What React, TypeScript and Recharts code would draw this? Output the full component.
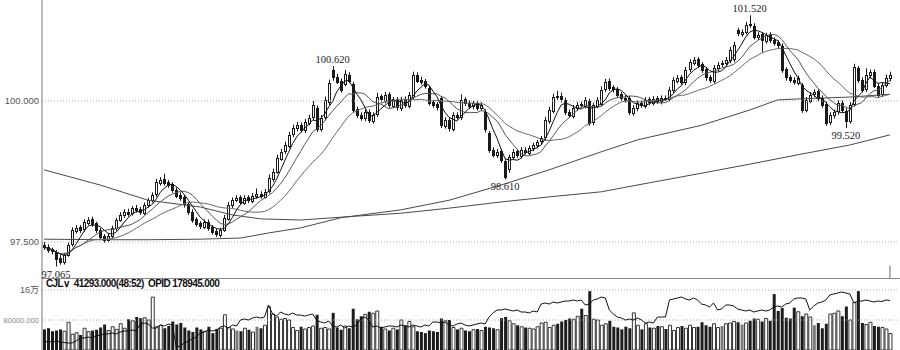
import React from 'react';
import { ComposedChart, Bar, Line, XAxis, YAxis, ReferenceLine, Cell } from 'recharts';

// ---- data ----
const opens = [
  97.45,97.42,97.37,97.32,97.22,97.14,97.28,97.46,97.70,97.76,
  97.72,97.84,97.90,97.83,97.72,97.61,97.53,97.61,97.74,97.90,
  97.97,98.04,98.01,98.11,98.08,98.02,98.15,98.25,98.34,98.55,
  98.62,98.56,98.52,98.43,98.34,98.29,98.17,98.04,97.90,97.83,
  97.77,97.86,97.76,97.69,97.63,97.72,97.92,98.15,98.25,98.29,
  98.20,98.29,98.23,98.31,98.36,98.31,98.40,98.62,98.75,98.98,
  99.11,99.21,99.41,99.51,99.58,99.48,99.62,99.71,99.88,99.51,
  99.71,99.98,100.55,100.43,100.36,100.30,100.47,100.30,99.85,99.76,
  99.69,99.81,99.65,99.76,100.08,100.01,100.12,99.92,100.03,99.87,
  100.03,99.92,100.07,100.47,100.38,100.35,100.23,99.98,99.94,100.05,
  99.56,99.67,99.51,99.76,99.71,100.03,99.97,99.90,99.97,99.87,
  99.80,99.43,99.14,99.04,99.11,98.94,98.78,99.01,99.11,99.03,
  99.14,99.09,99.16,99.21,99.28,99.35,99.65,99.83,100.08,100.08,
  100.01,99.81,99.74,99.87,99.94,99.92,100.00,99.62,99.92,99.96,
  100.21,100.35,100.24,100.21,100.12,100.06,100.05,99.79,99.87,99.97,
  99.92,100.03,99.97,100.05,99.99,100.06,100.04,100.19,100.36,100.42,
  100.33,100.56,100.68,100.74,100.65,100.56,100.42,100.36,100.58,100.65,
  100.68,100.72,100.74,101.26,101.19,101.23,101.36,101.33,101.13,101.18,
  101.07,101.18,101.09,101.04,100.98,100.56,100.42,100.38,100.33,100.28,
  99.85,100.01,100.12,100.17,100.06,99.95,99.62,99.74,99.81,99.97,
  99.83,99.65,99.95,100.58,100.38,100.21,100.45,100.52,100.27,100.12,
  100.29,100.40,
];
const highs = [
  97.50,97.46,97.40,97.36,97.27,97.31,97.49,97.76,97.80,97.80,
  97.90,97.94,97.95,97.86,97.75,97.64,97.65,97.79,97.93,98.03,
  98.08,98.09,98.14,98.16,98.12,98.20,98.28,98.38,98.62,98.65,
  98.71,98.60,98.56,98.47,98.38,98.33,98.21,98.08,97.94,97.87,
  97.90,97.90,97.80,97.73,97.75,97.98,98.21,98.29,98.33,98.33,
  98.33,98.33,98.37,98.45,98.40,98.44,98.70,98.80,99.05,99.15,
  99.28,99.45,99.58,99.63,99.62,99.68,99.76,100.00,99.92,99.75,
  100.08,100.38,100.62,100.48,100.40,100.55,100.51,100.34,99.90,99.80,
  99.85,99.85,99.80,100.15,100.12,100.16,100.16,100.07,100.07,100.07,
  100.08,100.16,100.52,100.51,100.43,100.39,100.27,100.02,99.98,100.09,
  99.71,99.71,99.80,99.80,100.12,100.07,100.01,100.00,100.01,99.98,
  99.85,99.47,99.18,99.15,99.15,98.98,99.05,99.15,99.15,99.18,
  99.18,99.21,99.26,99.31,99.38,99.72,99.90,100.13,100.18,100.15,
  100.06,99.85,99.93,99.98,99.99,100.07,100.04,99.97,100.07,100.26,
  100.39,100.40,100.28,100.25,100.16,100.10,100.09,99.93,100.01,100.01,
  100.07,100.07,100.09,100.09,100.10,100.10,100.25,100.42,100.46,100.46,
  100.60,100.74,100.78,100.78,100.69,100.60,100.46,100.64,100.69,100.72,
  100.78,100.96,101.05,101.30,101.27,101.40,101.52,101.38,101.22,101.22,
  101.21,101.22,101.13,101.08,101.02,100.60,100.46,100.42,100.45,100.32,
  100.07,100.16,100.21,100.21,100.10,99.99,99.80,99.85,100.01,100.01,
  99.87,99.98,100.66,100.62,100.42,100.58,100.56,100.56,100.31,100.33,
  100.47,100.52,
];
const lows = [
  97.36,97.31,97.28,97.065,97.10,97.10,97.24,97.42,97.65,97.66,
  97.68,97.80,97.77,97.66,97.55,97.49,97.49,97.57,97.70,97.86,
  97.93,97.95,97.97,98.02,97.98,97.98,98.11,98.20,98.30,98.50,
  98.50,98.46,98.37,98.28,98.23,98.11,97.98,97.84,97.77,97.73,
  97.73,97.70,97.63,97.59,97.58,97.68,97.88,98.10,98.21,98.16,
  98.16,98.19,98.19,98.27,98.27,98.27,98.36,98.57,98.71,98.94,
  99.06,99.16,99.36,99.46,99.44,99.43,99.57,99.66,99.45,99.46,
  99.66,99.93,100.36,100.30,100.15,100.26,100.32,99.79,99.70,99.65,
  99.64,99.61,99.60,99.72,99.97,99.96,99.88,99.87,99.83,99.82,
  99.88,99.87,100.02,100.32,100.29,100.22,99.92,99.88,99.83,99.52,
  99.51,99.46,99.46,99.67,99.66,99.91,99.86,99.85,99.83,99.82,
  99.44,99.08,99.00,98.99,98.90,98.61,98.73,98.96,98.99,98.98,
  99.05,99.04,99.11,99.16,99.23,99.30,99.60,99.78,100.02,99.97,
  99.75,99.70,99.69,99.82,99.88,99.87,99.56,99.57,99.87,99.91,
  100.16,100.18,100.15,100.06,100.00,99.97,99.75,99.74,99.82,99.88,
  99.87,99.93,99.92,99.95,99.94,100.00,99.99,100.14,100.31,100.29,
  100.28,100.51,100.63,100.59,100.50,100.36,100.32,100.31,100.53,100.60,
  100.63,100.67,100.69,101.15,101.14,101.18,101.30,101.09,101.08,100.86,
  101.02,101.03,100.98,100.94,100.50,100.36,100.32,100.29,100.28,99.79,
  99.80,99.96,100.07,100.00,99.88,99.56,99.57,99.69,99.76,99.79,
  99.52,99.60,99.90,100.32,100.15,100.16,100.40,100.23,100.06,100.07,
  100.24,100.35,
];
const closes = [
  97.41,97.36,97.33,97.20,97.15,97.27,97.45,97.71,97.75,97.71,
  97.85,97.89,97.82,97.71,97.60,97.54,97.60,97.75,97.89,97.98,
  98.03,98.00,98.10,98.07,98.03,98.16,98.24,98.33,98.56,98.60,
  98.55,98.51,98.42,98.33,98.28,98.16,98.03,97.89,97.82,97.78,
  97.85,97.75,97.68,97.64,97.71,97.93,98.16,98.24,98.28,98.21,
  98.28,98.24,98.32,98.35,98.32,98.39,98.63,98.74,98.99,99.10,
  99.22,99.40,99.52,99.57,99.49,99.63,99.70,99.93,99.50,99.70,
  100.02,100.32,100.42,100.35,100.20,100.48,100.37,99.84,99.75,99.70,
  99.80,99.66,99.75,100.07,100.02,100.11,99.93,100.02,99.88,100.02,
  99.93,100.11,100.46,100.37,100.34,100.27,99.97,99.93,99.88,99.57,
  99.66,99.52,99.75,99.72,100.02,99.96,99.91,99.96,99.88,99.93,
  99.49,99.13,99.05,99.10,98.95,98.66,99.00,99.10,99.04,99.13,
  99.10,99.17,99.22,99.27,99.34,99.66,99.84,100.07,100.07,100.02,
  99.80,99.75,99.88,99.93,99.93,100.02,99.61,99.93,100.02,100.20,
  100.34,100.23,100.20,100.11,100.05,100.02,99.80,99.88,99.96,99.93,
  100.02,99.98,100.04,100.00,100.05,100.05,100.20,100.37,100.41,100.34,
  100.55,100.69,100.73,100.64,100.55,100.41,100.37,100.59,100.64,100.67,
  100.73,100.90,100.99,101.20,101.22,101.35,101.35,101.14,101.17,101.08,
  101.17,101.08,101.03,100.99,100.55,100.41,100.37,100.34,100.41,99.84,
  100.02,100.11,100.16,100.05,99.93,99.61,99.75,99.80,99.96,99.84,
  99.66,99.93,100.60,100.37,100.20,100.46,100.51,100.28,100.11,100.28,
  100.41,100.46,
];
const volumes = [
  55000,58000,50000,52000,55000,50000,74000,42000,46000,40000,
  58000,49000,52000,54000,60000,68000,52000,62000,55000,70000,
  58000,82000,78000,88000,85000,86000,80000,141000,62000,66000,
  58000,64000,76000,68000,72000,60000,52000,48000,60000,55000,
  50000,62000,45000,56000,58000,94000,60000,56000,52000,50000,
  58000,54000,48000,62000,58000,66000,115000,96000,88000,82000,
  84000,80000,60000,52000,62000,56000,60000,64000,94000,58000,
  60000,56000,99000,60000,54000,64000,58000,110000,82000,90000,
  95000,102000,98000,104000,62000,56000,52000,58000,55000,80000,
  66000,76000,62000,50000,48000,45000,52000,50000,48000,84000,
  78000,80000,60000,55000,58000,52000,50000,54000,56000,52000,
  62000,60000,58000,54000,85000,88000,78000,70000,66000,62000,
  60000,58000,56000,62000,72000,74000,60000,66000,70000,76000,
  80000,84000,82000,90000,110000,92000,157000,82000,80000,66000,
  70000,78000,62000,60000,55000,62000,58000,99000,66000,55000,
  70000,60000,58000,64000,62000,56000,66000,52000,60000,64000,
  58000,66000,60000,62000,74000,66000,62000,70000,60000,64000,
  70000,72000,76000,74000,68000,72000,78000,84000,82000,76000,
  84000,78000,149000,104000,112000,86000,84000,113000,102000,90000,
  96000,88000,66000,72000,58000,70000,96000,98000,104000,90000,
  116000,80000,127000,157000,72000,68000,74000,64000,62000,60000,
  56000,44000,
];
const openInterest = [
  174800,174850,174800,174900,174800,174750,174700,174700,174900,175200,
  175200,175300,175200,175400,175500,175600,175600,175700,175600,175800,
  175900,175900,176000,175900,176600,176700,176600,176200,176200,176500,
  176400,176600,176500,174300,174400,174700,174900,175100,175300,175700,
  175800,176000,175900,176000,176300,176400,176200,176500,176400,177000,
  177100,177000,177200,177300,177200,177300,178500,177600,177400,177800,
  177600,177500,177700,177500,177500,177400,177500,177600,177000,176800,
  176700,176900,176400,176300,176500,176200,176400,176300,176500,177100,
  177300,177000,176300,176400,176200,176300,176400,176400,176300,176500,
  176400,176300,176500,176400,176300,176500,176400,176800,176800,176700,
  176800,176500,176400,176600,176700,176500,176400,176500,176600,176700,
  176600,177300,177700,178000,178000,178100,178000,177900,178000,177800,
  177800,177700,177900,177800,178600,178700,178600,178800,178700,178800,
  178900,178900,179000,178900,179000,178500,178600,179000,179100,179300,
  179200,178000,177600,177300,177200,177000,177100,177000,177200,177000,
  176700,176800,176700,177300,177300,177300,179000,179100,179200,179300,
  179100,179000,179200,179000,178600,178500,178300,178700,178000,178100,
  178500,178500,178400,178100,178000,177900,178000,177800,177900,178000,
  177900,178000,178300,178400,178300,178600,178700,179100,179200,179200,
  179100,178000,178400,178700,178800,179000,179500,179600,179700,179800,
  179700,179600,178700,178900,178900,179000,178900,178800,178900,178850,
  179000,178945,
];
// long moving averages read at sample points: [bar index, value]
const longMaA: [number, number][] = [
  [0, 98.78], [14, 98.51], [26, 98.24], [39, 98.12], [47, 97.98], [54, 97.91],
  [64, 97.89], [74, 97.94], [89, 98.01], [101, 98.10], [114, 98.21], [126, 98.30],
  [139, 98.39], [151, 98.55], [164, 98.72], [176, 98.88], [189, 99.06], [201, 99.22], [211, 99.40],
];
const longMaB: [number, number][] = [
  [0, 97.55], [14, 97.54], [26, 97.54], [39, 97.55], [49, 97.57], [56, 97.66],
  [64, 97.75], [74, 97.93], [89, 98.07], [101, 98.24], [114, 98.51], [126, 98.78],
  [139, 99.10], [148, 99.31], [164, 99.57], [176, 99.84], [183, 100.02], [189, 100.04],
  [201, 100.07], [211, 100.12],
];
// labelled extremes: [bar index, value, side]
const extremes: [number, number, 'high' | 'low'][] = [
  [3, 97.065, 'low'], [72, 100.62, 'high'], [115, 98.61, 'low'], [176, 101.52, 'high'], [200, 99.52, 'low'],
];
const priceTicks = [97.5, 100];
const volumeTicks = [80000, 160000];
const legendText = 'CJL\u2228  41293.000(48:52)  OPID 178945.000';

// ---- table built from the arrays ----
const N = closes.length;
const PAD = 2;
function avg(arr: number[], i: number, n: number) {
  const s = Math.max(0, i - n + 1);
  let t = 0;
  for (let k = s; k <= i; k++) t += arr[k];
  return t / (i - s + 1);
}
const maA = new Map(longMaA.map(([i, v]) => [i, v]));
const maB = new Map(longMaB.map(([i, v]) => [i, v]));
const ext = new Map(extremes.map(([i, v, s]) => [i, { v, s }]));
const rows: any[] = [];
for (let i = 0; i < N + PAD; i++) {
  if (i >= N) { rows.push({ i }); continue; }
  const e = ext.get(i);
  rows.push({
    i, o: opens[i], h: highs[i], l: lows[i], c: closes[i],
    hl: [lows[i], highs[i]],
    vol: volumes[i], oi: openInterest[i],
    ma5: avg(closes, i, 5), ma10: avg(closes, i, 10), ma20: avg(closes, i, 20),
    maA: maA.has(i) ? maA.get(i) : null,
    maB: maB.has(i) ? maB.get(i) : null,
    ext: e ? e.v : null, extSide: e ? e.s : null,
  });
}

const Candle = (props: any) => {
  const { x, y, width, height, payload } = props;
  if (!payload || payload.h == null) return null;
  const { o, h, l, c } = payload;
  const top = Math.min(y, y + height);
  const span = Math.abs(height);
  const k = h > l ? span / (h - l) : 0;
  const yO = top + (h - o) * k;
  const yC = top + (h - c) * k;
  const cx = Math.floor(x + width / 2) + 0.5;
  const up = c >= o;
  const bTop = Math.round(Math.min(yO, yC)) + 0.5;
  const bH = Math.max(Math.round(Math.abs(yO - yC)), 1);
  return (
    <g>
      <line x1={cx} x2={cx} y1={top} y2={top + span} stroke="#1a1a1a" strokeWidth={1} />
      <rect x={cx - 1} y={bTop} width={2} height={bH} fill={up ? '#ffffff' : '#1a1a1a'} stroke="#1a1a1a" strokeWidth={1} />
    </g>
  );
};

const ExtDot = (props: any) => {
  const { cx, cy, payload } = props;
  if (!payload || payload.ext == null || cy == null || isNaN(cy)) return <g key={props.key} />;
  const high = payload.extSide === 'high';
  return (
    <text key={props.key} x={cx} y={high ? cy - 3 : cy + 11} textAnchor="middle"
      fontSize={10.5} fontFamily="Liberation Serif, serif" fill="#222">
      {payload.ext.toFixed(3)}
    </text>
  );
};

const volColor = (r: any) => {
  if (r.c < r.o) return '#1c1c1c';
  if (r.c - r.o < 0.04) return '#7a7a7a';
  return '#ffffff';
};

const tickStyle = { fontSize: 9.5, fill: '#555', fontFamily: 'Liberation Sans, sans-serif' };

const VolTick = (props: any) => {
  const { x, y, payload } = props;
  const big = payload.value === 160000;
  return (
    <text x={x} y={y} dy={3} textAnchor="end" fontSize={big ? 9 : 7.5}
      fontFamily="Liberation Sans, 'Noto Sans CJK SC', sans-serif" fill={big ? '#555' : '#888'}>
      {big ? '16万' : '80000.000'}
    </text>
  );
};

export default function App() {
  return (
    <div style={{ position: 'absolute', left: 0, top: 0, width: 900, height: 350, background: '#fff', overflow: 'hidden' }}>
      <ComposedChart width={900} height={279} data={rows} margin={{ top: 0, right: 0, bottom: 0, left: 0 }}>
        <XAxis dataKey="i" type="category" hide />
        <YAxis domain={[96.844, 101.791]} ticks={priceTicks} width={42} tickLine={false} tickSize={0} tickMargin={3}
          axisLine={{ stroke: '#777' }} tick={tickStyle} tickFormatter={(v: number) => v.toFixed(3)} allowDataOverflow />
        {priceTicks.map(t => (
          <ReferenceLine key={t} y={t} stroke="#aaa" strokeDasharray="1 2" />
        ))}
        <Line dataKey="maA" stroke="#4a4a4a" strokeWidth={1} dot={false} connectNulls isAnimationActive={false} />
        <Line dataKey="maB" stroke="#4a4a4a" strokeWidth={1} dot={false} connectNulls isAnimationActive={false} />
        <Bar dataKey="hl" barSize={3} shape={<Candle />} isAnimationActive={false} />
        <Line dataKey="ma20" stroke="#6a6a6a" strokeWidth={1} dot={false} isAnimationActive={false} />
        <Line dataKey="ma10" stroke="#555" strokeWidth={1} dot={false} isAnimationActive={false} />
        <Line dataKey="ma5" stroke="#111" strokeWidth={1} dot={false} isAnimationActive={false} />
        <Line dataKey="ext" stroke="none" dot={<ExtDot />} activeDot={false} isAnimationActive={false} />
        <ReferenceLine segment={[{ x: 211, y: 97.08 }, { x: 211, y: 96.844 }]} stroke="#666" />
      </ComposedChart>
      <div style={{ position: 'absolute', left: 42, top: 278, width: 858, height: 1, background: '#888' }} />
      <div style={{ position: 'absolute', left: 0, top: 278, width: 900, height: 72 }}>
        <ComposedChart width={900} height={72} data={rows} margin={{ top: 0, right: 0, bottom: 0, left: 0 }}>
          <XAxis dataKey="i" type="category" hide />
          <YAxis yAxisId="v" orientation="left" domain={[0, 192000]} ticks={volumeTicks} width={42} tickLine={false}
            tickSize={0} tickMargin={3} axisLine={{ stroke: '#777' }} tick={<VolTick />} />
          <YAxis yAxisId="oi" orientation="right" width={0} domain={[174000, 181200]} hide />
          {volumeTicks.map(t => (
            <ReferenceLine key={t} yAxisId="v" y={t} stroke="#aaa" strokeDasharray="1 2" />
          ))}
          <Bar yAxisId="v" dataKey="vol" barSize={3} isAnimationActive={false}>
            {rows.map((r, idx) => {
              const f = r.c == null ? '#fff' : volColor(r);
              return <Cell key={idx} fill={f} stroke={f === '#ffffff' ? '#333' : f} strokeWidth={f === '#ffffff' ? 1 : 0} />;
            })}
          </Bar>
          <Line yAxisId="oi" dataKey="oi" stroke="#111" strokeWidth={1} dot={false} isAnimationActive={false} />
        </ComposedChart>
        <div style={{ position: 'absolute', left: 46, top: 0, fontSize: 10, fontWeight: 600,
          fontFamily: 'Liberation Sans, sans-serif', color: '#111', whiteSpace: 'pre', letterSpacing: -0.6 }}>{legendText}</div>
      </div>
    </div>
  );
}
